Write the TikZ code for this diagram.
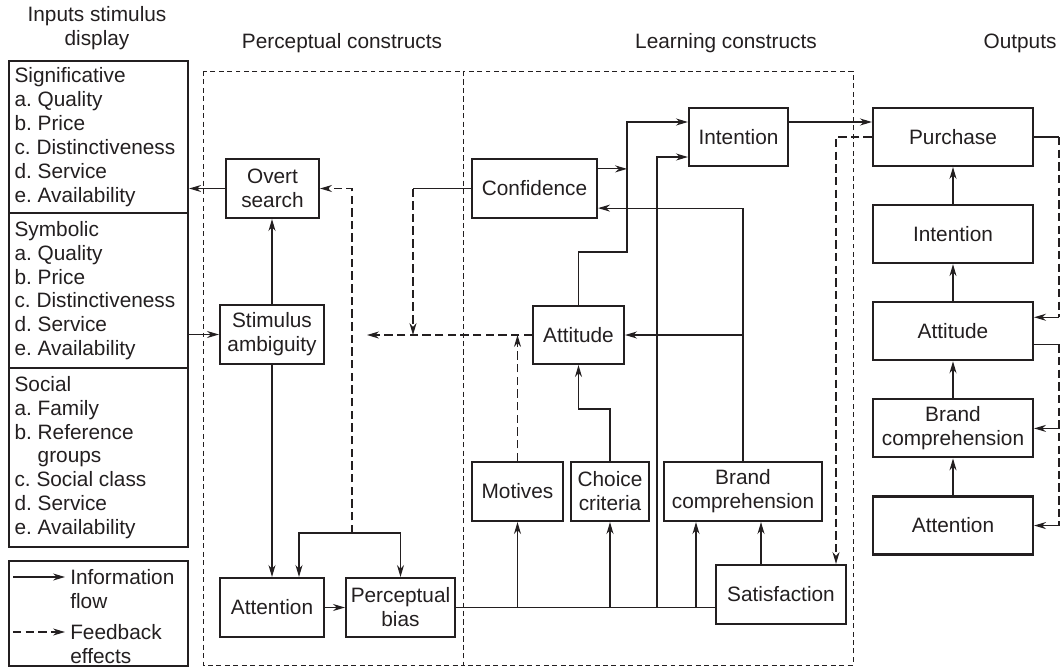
\documentclass[tikz,border=0pt]{standalone}
\usepackage{fontspec}
\setmainfont{Liberation Sans}
\usepackage{xcolor}
\usepackage{tikz}
\usetikzlibrary{arrows.meta, positioning}
\definecolor{ink}{HTML}{231F20}
\frenchspacing
\hyphenpenalty=10000

\begin{document}
\begin{tikzpicture}[
    x=0.025cm, y=-0.025cm,
    font=\fontsize{14.8}{17}\selectfont,
    box/.style={rectangle, draw=ink, line width=1.5pt, minimum height=1.475cm, align=center, inner sep=1pt, text=ink},
    obox/.style={box, minimum width=4cm, minimum height=1.45cm},
    inbox/.style={rectangle, draw=ink, line width=1.5pt, anchor=north west, minimum width=4.475cm, text width=4.2cm, align=flush left, inner xsep=0.1375cm, inner ysep=0pt, text=ink},
    title/.style={align=center, text=ink},
    line/.style={draw=ink, line width=0.8pt},
    arrow/.style={line, -{Stealth[length=8.5pt, width=5pt]}},
    fline/.style={line, dash pattern=on 6pt off 3pt},
    fback/.style={fline, -{Stealth[length=8.5pt, width=5pt]}},
    region/.style={draw=ink, line width=0.7pt, dash pattern=on 3.5pt off 2.5pt}
]
\useasboundingbox (0,0) rectangle (1060,666);

\node[title] (tin) at (97,28) {Inputs stimulus\\display};
\node[title] (tperc) at (342,43) {Perceptual constructs};
\node[title] (tlearn) at (726,43) {Learning constructs};
\node[title] (tout) at (1020,43) {Outputs};

\draw[region] (203,71) rectangle (463,665);
\draw[region] (463,71) rectangle (853,665);

\node[inbox, minimum height=3.8cm] (sig) at (8,60) {Significative\\a. Quality\\b. Price\\c. Distinctiveness\\d. Service\\e. Availability};
\node[inbox, minimum height=3.875cm] (sym) at (8,212) {Symbolic\\a. Quality\\b. Price\\c. Distinctiveness\\d. Service\\e. Availability};
\node[inbox, minimum height=4.475cm] (soc) at (8,367) {Social\\a. Family\\b. Reference\\\phantom{b. }groups\\c. Social class\\d. Service\\e. Availability};

\node[inbox, minimum height=2.625cm] (legend) at (8,560) {};
\node[title, anchor=west, align=left, inner sep=0pt] (infotxt) at (70,589) {Information\\flow};
\node[title, anchor=west, align=left, inner sep=0pt] (fbtxt) at (70,644) {Feedback\\effects};
\coordinate (ia) at (13,577);
\coordinate (ib) at (65,577);
\coordinate (fa) at (13,632);
\coordinate (fb) at (65,632);
\draw[arrow] (ia) -- (ib);
\draw[fback] (fa) -- (fb);

\node[box, minimum width=2.325cm] (overt) at (272.5,188.5) {Overt\\search};
\node[box, minimum width=2.6cm] (stim) at (272,334.5) {Stimulus\\ambiguity};
\node[box, minimum width=2.6cm] (attnP) at (272,607.5) {Attention};
\node[box, minimum width=2.725cm] (bias) at (400.5,607.5) {Perceptual\\bias};

\node[box, minimum width=3.125cm] (conf) at (534.5,188.5) {Confidence};
\node[box, minimum width=2.475cm, minimum height=1.45cm] (intL) at (738.5,137) {Intention};
\node[box, minimum width=2.275cm, minimum height=1.45cm] (attL) at (578.5,335) {Attitude};
\node[box, minimum width=2.275cm] (motives) at (517.5,491.5) {Motives};
\node[box, minimum width=1.95cm] (choice) at (610,491.5) {Choice\\criteria};
\node[box, minimum width=3.95cm] (brandL) at (743,491.5) {Brand\\comprehension};
\node[box, minimum width=3.25cm] (satis) at (781,594.5) {Satisfaction};

\node[obox] (purch) at (953,137) {Purchase};
\node[obox, below=0.925cm of purch] (intO) {Intention};
\node[obox, below=0.925cm of intO] (attO) {Attitude};
\node[obox, below=0.925cm of attO] (brandO) {Brand\\comprehension};
\node[obox, below=0.925cm of brandO] (attnO) {Attention};

\draw[arrow] (overt.west) -- (overt.west -| sig.east);
\draw[arrow] (stim.west -| sym.east) -- (stim.west);
\draw[arrow] (stim.north) -- (stim.north |- overt.south);
\draw[arrow] (stim.south) -- (stim.south |- attnP.north);
\coordinate (fbk) at (352,533);
\draw[fback] (fbk) |- (overt.east);
\draw[arrow] (fbk) -| ([xshift=0.675cm]attnP.north);
\draw[arrow] (fbk) -| (bias.north);
\draw[arrow] (attnP) -- (bias);

\draw[line] (bias.east) -- (bias.east -| satis.west);
\draw[arrow] (motives.south |- bias.east) -- (motives.south);
\draw[arrow] (choice.south |- bias.east) -- (choice.south);
\coordinate (jint) at (657,607.5);
\draw[arrow] (jint) |- ([yshift=-0.5cm]intL.west);
\coordinate (bl) at ([xshift=-1.175cm]brandL.south);
\coordinate (br) at ([xshift=0.45cm]brandL.south);
\draw[arrow] (bl |- bias.east) -- (bl);
\draw[arrow] (br |- satis.north) -- (br);

\draw[fback] (motives.north) -- (motives.north |- attL.west);
\coordinate (fbl) at (367,335);
\draw[fback] (attL.west) -- (fbl);
\coordinate (cfk) at (413,188.5);
\draw[line] (conf.west) -- (cfk);
\draw[fback] (cfk) -- (cfk |- attL.west);

\draw[arrow] (choice.north) -- ++(0,-52) -| (attL.south);
\coordinate (ak) at (627,252);
\draw[arrow] (attL.north) |- (ak) |- ([yshift=0.375cm]intL.west);
\coordinate (ce) at ([yshift=0.49cm]conf.east);
\draw[arrow] (ce) -- (ce -| ak);
\draw[arrow] (brandL.north) |- ([yshift=-0.49cm]conf.east);
\draw[arrow] (brandL.north |- attL.east) -- (attL.east);

\draw[arrow] ([yshift=0.375cm]intL.east) -- ([yshift=0.375cm]purch.west);
\draw[fback] (purch.west) -| ([xshift=1.375cm]satis.north);

\draw[arrow] (attnO) -- (brandO);
\draw[arrow] (brandO) -- (attO);
\draw[arrow] (attO) -- (intO);
\draw[arrow] (intO) -- (purch);

\coordinate (rx) at (1059,0);
\coordinate (ae1) at ([yshift=0.35cm]attO.east);
\coordinate (ae2) at ([yshift=-0.325cm]attO.east);
\draw[line] (purch.east) -- (purch.east -| rx);
\draw[fline] (purch.east -| rx) -- (ae1 -| rx);
\draw[arrow] (ae1 -| rx) -- (ae1);
\draw[line] (ae2) -- (ae2 -| rx);
\draw[fline] (ae2 -| rx) -- (attnO.east -| rx);
\draw[arrow] (brandO.east -| rx) -- (brandO.east);
\draw[arrow] (attnO.east -| rx) -- (attnO.east);

\end{tikzpicture}
\end{document}
